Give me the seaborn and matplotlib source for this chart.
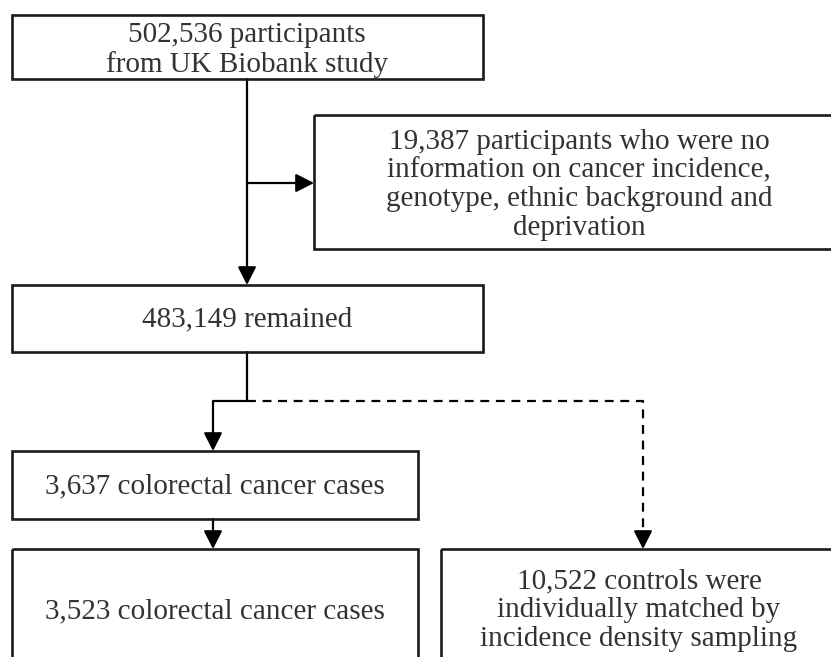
import matplotlib
matplotlib.use("Agg")
import matplotlib.pyplot as plt
import seaborn as sns
import pandas as pd
from matplotlib.patches import Rectangle

sns.set_theme(style="white")
plt.rcParams['font.family'] = ['Liberation Serif', 'DejaVu Serif']

# ---- content ----
box_labels = [
    "502,536 participants\nfrom UK Biobank study",
    "19,387 participants who were no\ninformation on cancer incidence,\ngenotype, ethnic background and\ndeprivation",
    "483,149 remained",
    "3,637 colorectal cancer cases",
    "3,523 colorectal cancer cases",
    "10,522 controls were\nindividually matched by\nincidence density sampling",
]

# ---- layout (pixel units, y downward) ----
box_x0 = [12, 314, 12, 12, 12, 441]
box_x1 = [483, 845, 483, 418, 418, 845]
box_y0 = [15, 115, 285, 451, 549, 549]
box_y1 = [79, 249, 352, 519, 667, 667]
text_cx = [247, 579, 247, 215, 215, 639]
text_cy = [50, 185, 319, 486, 611, 610]

fig = plt.figure(figsize=(8.31, 6.57), dpi=100)
ax = fig.add_axes([0, 0, 1, 1])
ax.set_xlim(0, 831)
ax.set_ylim(657, 0)
ax.axis("off")

for lab, x0, x1, y0, y1, cx, cy in zip(box_labels, box_x0, box_x1, box_y0, box_y1, text_cx, text_cy):
    ax.add_patch(Rectangle((x0, y0), x1 - x0, y1 - y0, fill=False,
                           edgecolor="#1a1a1a", linewidth=1.9, zorder=3))
    ax.text(cx, cy, lab, ha="center", va="center",
            fontsize=21, color="#333333", linespacing=1.13, zorder=4)

# ---- connectors ----
solid_paths = [
    ([247, 247], [79, 273]),          # box1 -> box3
    ([247, 302], [183, 183]),          # branch -> box2
    ([247, 247, 213, 213], [352, 401, 401, 439]),   # box3 -> box4
    ([213, 213], [519, 537]),          # box4 -> box5
]
dashed_paths = [
    ([247, 643, 643], [401, 401, 537]),  # box3 -> box6
]
arrow_tips = [(247, 285), (314, 183), (213, 451), (213, 549), (643, 549)]
arrow_from = [(247, 272), (301, 183), (213, 438), (213, 536), (643, 536)]

for xs, ys in solid_paths:
    df = pd.DataFrame({"x": xs, "y": ys})
    sns.lineplot(data=df, x="x", y="y", sort=False, estimator=None,
                 color="black", linewidth=1.6, ax=ax)
for xs, ys in dashed_paths:
    df = pd.DataFrame({"x": xs, "y": ys})
    sns.lineplot(data=df, x="x", y="y", sort=False, estimator=None,
                 color="black", linewidth=1.6, ax=ax, dashes=(4.0, 3.0))

for tip, frm in zip(arrow_tips, arrow_from):
    ax.annotate("", xy=tip, xytext=frm,
                arrowprops=dict(arrowstyle="-|>,head_length=0.55,head_width=0.28",
                                color="black", lw=1.6, mutation_scale=20,
                                shrinkA=0, shrinkB=0), zorder=5)

ax.set_xlim(0, 831)
ax.set_ylim(657, 0)
ax.axis("off")
fig.savefig("out.png", dpi=100)
